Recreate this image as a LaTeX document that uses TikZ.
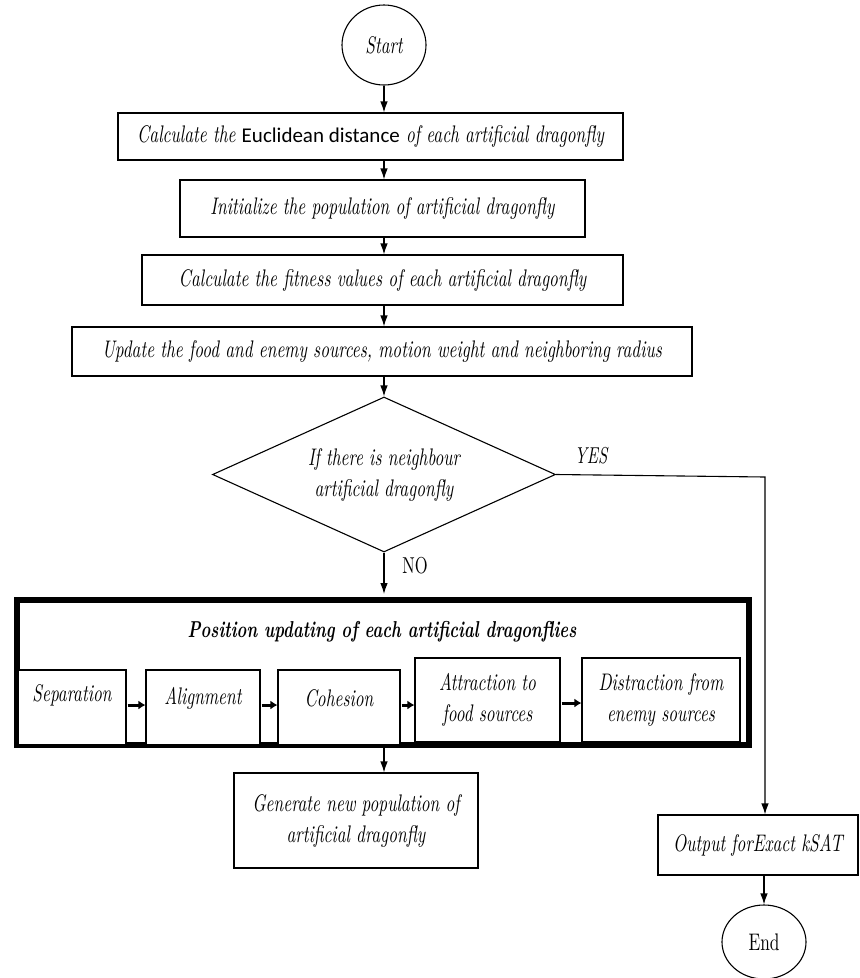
\documentclass[tikz,border=0pt]{standalone}
\usepackage{fontspec}
\setmainfont{lmroman10-regular.otf}[ItalicFont=lmroman10-italic.otf, BoldFont=lmroman10-bold.otf, BoldItalicFont=lmroman10-bolditalic.otf, FakeStretch=0.72]
\newfontfamily\calib{Carlito}
\usetikzlibrary{shapes.geometric,arrows.meta}
\begin{document}
\begin{tikzpicture}[x=1pt,y=-1pt,
  box/.style={draw, line width=1.1pt, fill=white, inner sep=0pt, align=center, font=\fontsize{24}{31}\selectfont\itshape},
  arr/.style={-{Latex[length=11pt,width=7.5pt]}, line width=1.1pt},
  sarr/.style={-{Latex[length=7pt,width=9pt]}, line width=3pt, shorten <=1pt},
  lbl/.style={font=\fontsize{23}{26}\selectfont}]
\useasboundingbox (0,0) rectangle (860,978);
\node[box, ellipse, minimum width=84, minimum height=80] (start) at (384,45) {Start};
\node[box, minimum width=505, minimum height=47] (b1) at (370.5,136.5) {Calculate the {\calib\upshape\fontsize{21}{25}\selectfont Euclidean distance} of each artificial dragonfly};
\node[box, minimum width=405, minimum height=57] (b2) at (382.5,208.5) {Initialize the population of artificial dragonfly};
\node[box, minimum width=481, minimum height=50] (b3) at (382.5,280) {Calculate the fitness values of each artificial dragonfly};
\node[box, minimum width=620, minimum height=49] (b4) at (382,351.5) {Update the food and enemy sources, motion weight and neighboring radius};
\node[box, diamond, aspect=2.2, minimum width=343, minimum height=155] (d) at (384,474.5) {If there is neighbour\\artificial dragonfly};
\node[draw, line width=6pt, minimum width=732, minimum height=145, inner sep=0pt] (big) at (383,672.5) {};
\node[font=\fontsize{23}{27}\selectfont\bfseries\itshape] (title) at (382,632) {Position updating of each artificial dragonflies};
\node[box, minimum width=108, minimum height=75, text height=17pt, text depth=30pt] (sep) at (72,707.5) {Separation};
\node[box, minimum width=114, minimum height=75, text height=17pt, text depth=24pt] (ali) at (203,707.5) {Alignment};
\node[box, minimum width=122, minimum height=75, text height=17pt, text depth=20pt] (coh) at (339,707.5) {Cohesion};
\node[box, minimum width=145, minimum height=84] (att) at (487.5,700) {Attraction to\\food sources};
\node[box, minimum width=158, minimum height=84] (dis) at (661,700) {Distraction from\\enemy sources};
\node[box, minimum width=244, minimum height=95] (gen) at (356,820.5) {Generate new population of\\artificial dragonfly};
\node[box, minimum width=200, minimum height=60] (out) at (758,845) {Output forExact kSAT};
\node[box, ellipse, minimum width=84, minimum height=74, font=\fontsize{24}{28}\selectfont] (end) at (764,942) {End};
\node[lbl, font=\fontsize{23}{26}\selectfont\itshape] (yes) at (591,456) {YES};
\node[lbl] (no) at (415,566) {NO};
\coordinate (yc) at (765,477);
\draw[arr] (start) -- (start |- b1.north);
\draw[arr] (start |- b1.south) -- (start |- b2.north);
\draw[arr] (start |- b2.south) -- (start |- b3.north);
\draw[arr] (start |- b3.south) -- (start |- b4.north);
\draw[arr] (start |- b4.south) -- (d.north);
\draw[arr, shorten >=3pt] (d.south) -- (d.south |- big.north);
\draw[arr] (d.east) -- (yc) -- (yc |- out.north);
\draw[arr] (end.north |- out.south) -- (end.north);
\draw[arr] (start |- big.south) -- (start |- gen.north);
\draw[sarr] (sep.east |- 0,705) -- (ali.west |- 0,705);
\draw[sarr] (ali.east |- 0,705) -- (coh.west |- 0,705);
\draw[sarr] (coh.east |- 0,705) -- (att.west |- 0,705);
\draw[sarr] (att.east |- 0,703) -- (dis.west |- 0,703);
\end{tikzpicture}
\end{document}
